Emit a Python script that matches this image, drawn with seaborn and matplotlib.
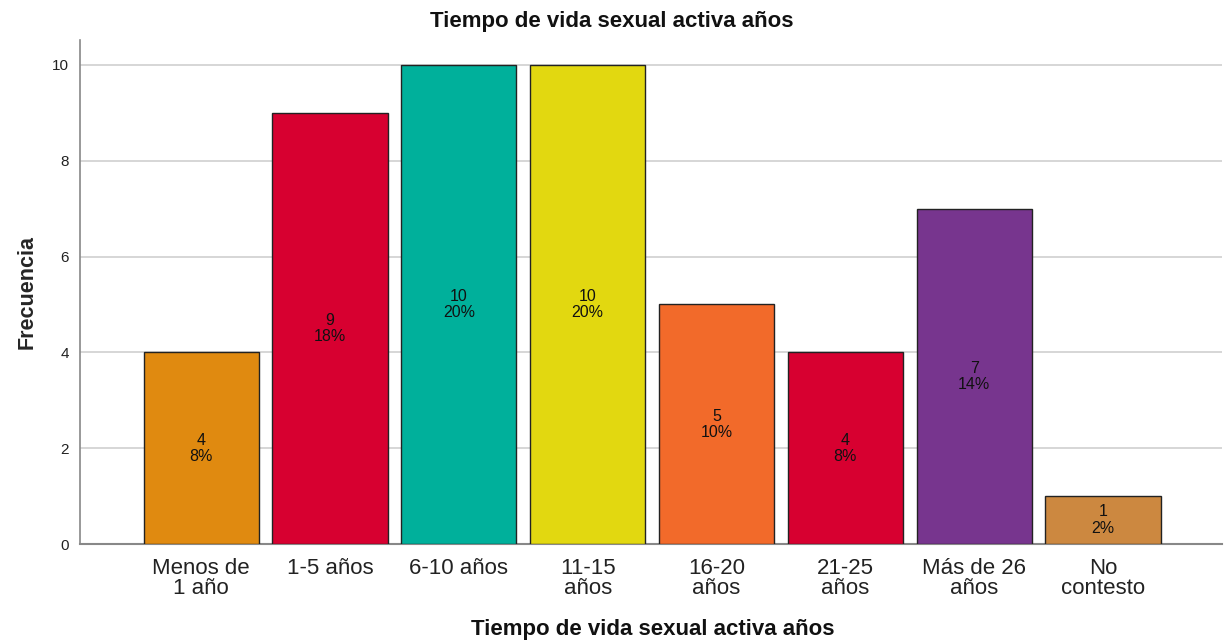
import matplotlib
matplotlib.use("Agg")
import matplotlib.pyplot as plt
import seaborn as sns
import pandas as pd

categories = ["Menos de\n1 año", "1-5 años", "6-10 años", "11-15\naños",
              "16-20\naños", "21-25\naños", "Más de 26\naños", "No\ncontesto"]
counts = [4, 9, 10, 10, 5, 4, 7, 1]
percents = ["8%", "18%", "20%", "20%", "10%", "8%", "14%", "2%"]
colors = ["#E08A10", "#D70030", "#00B09B", "#E2D810",
          "#F26A2A", "#D70030", "#77358E", "#CC8840"]
yticks = [0, 2, 4, 6, 8, 10]
title = "Tiempo de vida sexual activa años"
xlabel = "Tiempo de vida sexual activa años"
ylabel = "Frecuencia"

sns.set_theme(style="white")
plt.rcParams["font.family"] = ["Liberation Sans", "DejaVu Sans"]

df = pd.DataFrame({"cat": categories, "n": counts})

fig = plt.figure(figsize=(12.24, 6.41), dpi=100)
ax = fig.add_axes([0.0654, 0.1513, 0.9326, 0.7863])

sns.barplot(data=df, x="cat", y="n", hue="cat", palette=colors, legend=False,
            width=0.893, edgecolor="#222222", linewidth=1.0, saturation=1,
            ax=ax, zorder=3)

for patch, n, p in zip(ax.patches, counts, percents):
    cx = patch.get_x() + patch.get_width() / 2
    ax.text(cx, n / 2, f"{n}\n{p}", ha="center", va="center",
            fontsize=11.5, linespacing=1.1, color="#111111", zorder=4)

ax.set_xlim(-0.94, 7.92)
ax.set_ylim(0, 10.52)
ax.set_yticks(yticks)
ax.yaxis.grid(True, color="#d0d0d0", linewidth=1.2, zorder=0)
ax.set_axisbelow(True)
for s in ["top", "right"]:
    ax.spines[s].set_visible(False)
ax.spines["left"].set_color("#888888")
ax.spines["bottom"].set_color("#888888")
ax.spines["left"].set_linewidth(1.2)
ax.spines["bottom"].set_linewidth(1.5)

ax.tick_params(axis="y", labelsize=11, length=0, pad=8, colors="#222222")
ax.tick_params(axis="x", labelsize=16, length=0, pad=10, colors="#222222")
for lab in ax.get_xticklabels():
    lab.set_linespacing(0.92)

fig.text(0.5, 1 - 22 / 641, title, ha="center", va="center",
         fontsize=16, fontweight="bold", color="#111111")
ax.set_xlabel("")
fig.text(0.5334, 1 - 629 / 641, xlabel, ha="center", va="center",
         fontsize=16, fontweight="bold", color="#111111")
ax.set_ylabel(ylabel, fontsize=15.5, fontweight="bold", labelpad=10)

fig.savefig("out.png", dpi=100)
